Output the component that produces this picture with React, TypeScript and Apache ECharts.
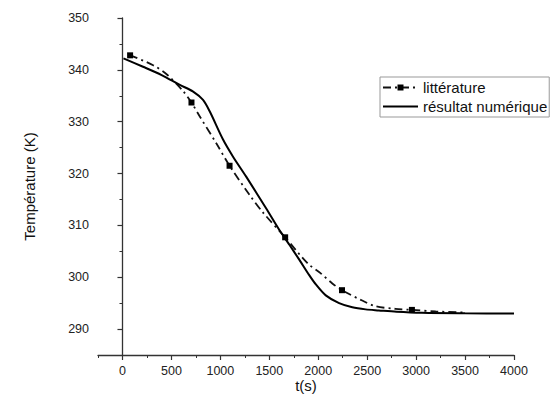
import React, { useEffect, useRef } from 'react';
import * as echarts from 'echarts';

// littérature (dash-dot line, square markers on some points)
const litTime = [78, 313, 460, 620, 705, 790, 960, 1094, 1298, 1430, 1662, 1890, 2026, 2144, 2243, 2449, 2585, 2789, 2957, 3200, 3492];
const litTemp = [342.8, 340.9, 339.0, 335.9, 333.7, 331.0, 325.8, 321.5, 315.9, 312.6, 307.7, 302.7, 300.75, 298.8, 297.5, 295.5, 294.4, 293.9, 293.7, 293.4, 293.2];
const litMarker = [1, 0, 0, 0, 1, 0, 0, 1, 0, 0, 1, 0, 0, 0, 1, 0, 0, 0, 1, 0, 0];

// résultat numérique (solid line)
const numTime = [10, 210, 400, 586, 722, 823, 891, 1026, 1128, 1264, 1467, 1603, 1704, 1806, 1908, 1976, 2077, 2213, 2348, 2484, 2619, 2800, 3059, 3500, 4000];
const numTemp = [342.2, 340.6, 339.0, 337.1, 335.8, 334.2, 332.0, 326.6, 323.3, 319.4, 313.3, 309.1, 306.3, 303.4, 300.4, 298.6, 296.5, 295.0, 294.2, 293.8, 293.6, 293.35, 293.15, 293.05, 293.0];

const xTickLabels = [0, 500, 1000, 1500, 2000, 2500, 3000, 3500, 4000];
const xMinorTicks = [-250, 250, 750, 1250, 1750, 2250, 2750, 3250, 3750];
const yTickLabels = [290, 300, 310, 320, 330, 340, 350];
const yMinorTicks = [285, 295, 305, 315, 325, 335, 345];

const FONT = '"Liberation Sans", Arial, sans-serif';

export default function App() {
  const ref = useRef<HTMLDivElement>(null);
  useEffect(() => {
    if (!ref.current) return;
    const chart = echarts.init(ref.current, undefined, { renderer: 'svg' });
    const axisColor = '#333';
    const labelColor = '#222';
    const baseX = {
      type: 'value',
      min: -250,
      max: 4000,
      gridIndex: 0,
      splitLine: { show: false },
    };
    const baseY = {
      type: 'value',
      min: 285,
      max: 350,
      gridIndex: 0,
      splitLine: { show: false },
    };
    chart.setOption({
      animation: false,
      backgroundColor: '#fff',
      textStyle: { fontFamily: FONT },
      grid: { left: 98, top: 18, right: 40, bottom: 39, containLabel: false, outerBoundsMode: 'none' },
      legend: {
        orient: 'vertical',
        left: 380,
        top: 77,
        padding: [3, 2, 3, 2],
        itemGap: 4,
        itemWidth: 35,
        itemHeight: 7.5,
        borderColor: '#999',
        borderWidth: 1,
        textStyle: { fontSize: 15, color: '#111', fontFamily: FONT },
        data: [
          { name: 'littérature' },
          { name: 'résultat numérique', itemStyle: { color: 'transparent', opacity: 0 } },
        ],
      },
      xAxis: [
        {
          ...baseX,
          position: 'bottom',
          name: 't(s)',
          nameLocation: 'middle',
          nameGap: 23,
          nameMoveOverlap: false,
          nameTextStyle: { fontSize: 15, color: '#111', fontFamily: FONT },
          axisLine: { show: true, lineStyle: { color: axisColor, width: 1.3 } },
          axisTick: { show: true, length: 5, customValues: xTickLabels, lineStyle: { color: axisColor, width: 1.2 } },
          axisLabel: {
            show: true,
            customValues: xTickLabels,
            formatter: (v: number) => String(v),
            fontSize: 12.5,
            color: labelColor,
            margin: 9,
            fontFamily: FONT,
          },
        },
        {
          ...baseX,
          position: 'bottom',
          axisLine: { show: false },
          axisTick: { show: true, length: 3, customValues: xMinorTicks, lineStyle: { color: axisColor, width: 1 } },
          axisLabel: { show: false },
        },
      ],
      yAxis: [
        {
          ...baseY,
          position: 'left',
          name: 'Température (K)',
          nameLocation: 'middle',
          nameGap: 61,
          nameMoveOverlap: false,
          nameTextStyle: { fontSize: 15, color: '#111', fontFamily: FONT },
          axisLine: { show: true, lineStyle: { color: axisColor, width: 1.3 } },
          axisTick: { show: true, length: 5, customValues: yTickLabels, lineStyle: { color: axisColor, width: 1.2 } },
          axisLabel: {
            show: true,
            customValues: yTickLabels,
            formatter: (v: number) => String(v),
            fontSize: 12.5,
            color: labelColor,
            margin: 9,
            fontFamily: FONT,
          },
        },
        {
          ...baseY,
          position: 'left',
          axisLine: { show: false },
          axisTick: { show: true, length: 3, customValues: yMinorTicks, lineStyle: { color: axisColor, width: 1 } },
          axisLabel: { show: false },
        },
      ],
      series: [
        {
          name: 'littérature',
          type: 'line',
          xAxisIndex: 0,
          yAxisIndex: 0,
          smooth: 0.3,
          symbol: 'rect',
          symbolSize: 6,
          itemStyle: { color: '#000' },
          lineStyle: { color: '#111', width: 1.8, type: [8, 4, 2, 4] },
          data: litTime.map((t, i) =>
            litMarker[i]
              ? { value: [t, litTemp[i]] }
              : { value: [t, litTemp[i]], symbol: 'none' }
          ),
          z: 2,
        },
        {
          name: 'résultat numérique',
          type: 'line',
          xAxisIndex: 0,
          yAxisIndex: 0,
          smooth: 0.3,
          symbol: 'none',
          itemStyle: { color: '#000' },
          lineStyle: { color: '#000', width: 2 },
          data: numTime.map((t, i) => [t, numTemp[i]]),
          z: 3,
        },
      ],
    });
    return () => chart.dispose();
  }, []);
  return (
    <div
      ref={ref}
      style={{ position: 'fixed', left: 0, top: 0, width: 554, height: 394, background: '#fff' }}
    />
  );
}
